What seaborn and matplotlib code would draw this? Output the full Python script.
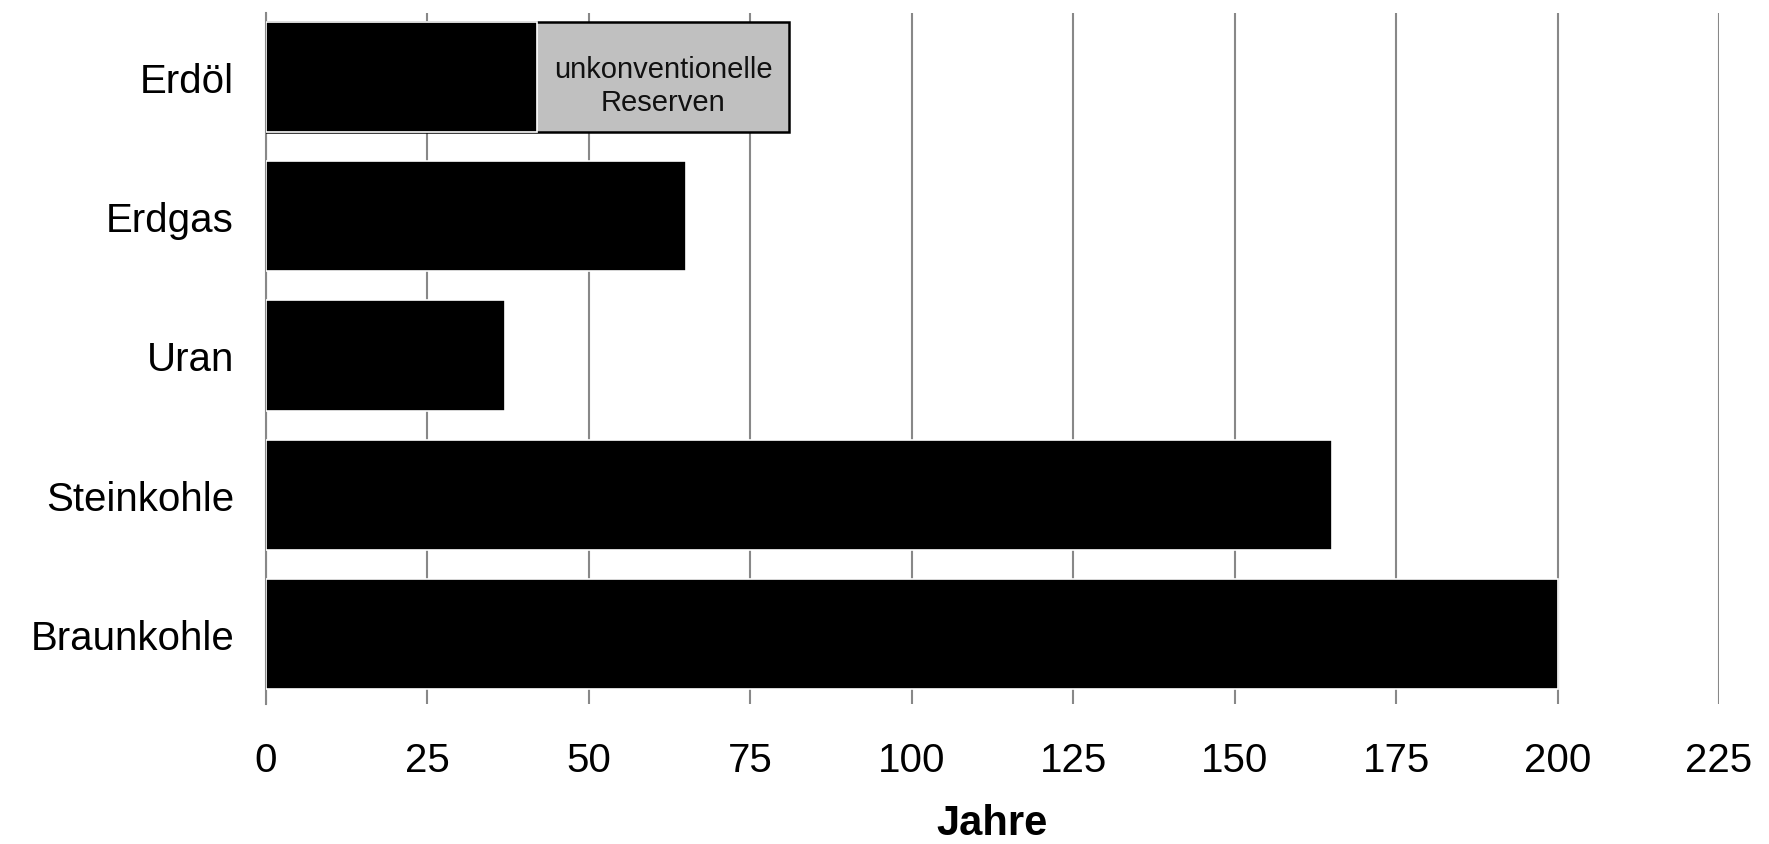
import matplotlib
matplotlib.use("Agg")
import matplotlib.pyplot as plt
import seaborn as sns
import pandas as pd

# Statische Reichweite der Energierohstoffe in Jahren
kategorien = ["Erdöl", "Erdgas", "Uran", "Steinkohle", "Braunkohle"]
reserven_jahre = [42, 65, 37, 165, 200]
# Erdöl inklusive unkonventioneller Reserven
gesamt_kategorie = ["Erdöl"]
gesamt_jahre = [81]
x_ticks = [0, 25, 50, 75, 100, 125, 150, 175, 200, 225]
x_titel = "Jahre"
hinweis = "unkonventionelle\nReserven"

sns.set_style("white")
plt.rcParams["font.family"] = ["Liberation Sans", "DejaVu Sans"]
plt.rcParams["text.color"] = "black"
plt.rcParams["axes.labelcolor"] = "black"
plt.rcParams["xtick.color"] = "black"
plt.rcParams["ytick.color"] = "black"

df = pd.DataFrame({"Energietraeger": kategorien, "Jahre": reserven_jahre})
df_gesamt = pd.DataFrame({"Energietraeger": gesamt_kategorie, "Jahre": gesamt_jahre})

fig = plt.figure(figsize=(17.69, 8.45), dpi=100)
ax = fig.add_axes([266 / 1769, 1 - 705 / 845, (1719 - 266) / 1769, (705 - 13.5) / 845])

# Gesamtbalken (grau) zuerst, darüber die konventionellen Reserven (schwarz)
sns.barplot(data=df_gesamt, x="Jahre", y="Energietraeger", order=kategorien,
            orient="h", color="#c0c0c0", edgecolor="black", linewidth=1.8,
            width=0.79, saturation=1, ax=ax, zorder=3)
sns.barplot(data=df, x="Jahre", y="Energietraeger", order=kategorien,
            orient="h", color="black", edgecolor="white", linewidth=1.2,
            width=0.79, saturation=1, ax=ax, zorder=4)

ax.text((reserven_jahre[0] + gesamt_jahre[0]) / 2, 0.065, hinweis,
        ha="center", va="center", fontsize=21, color="#111111",
        linespacing=1.25, zorder=5)

ax.set_xlim(0, 225)
ax.set_ylim(4.5, -0.46)
ax.set_xticks(x_ticks)
ax.set_xticklabels([str(t) for t in x_ticks], fontsize=29)
ax.tick_params(axis="x", length=4, width=1, color="#888888", labelcolor="black", pad=23)
ax.tick_params(axis="y", length=0, pad=23, labelsize=29, labelcolor="black")
ax.set_ylabel("")
ax.set_xlabel(x_titel, fontsize=30, fontweight="bold", labelpad=17, color="black")

ax.grid(axis="x", color="#888888", linewidth=1.5, zorder=0)
ax.grid(axis="y", visible=False)
ax.set_axisbelow(True)
for side in ["top", "right", "bottom"]:
    ax.spines[side].set_visible(False)
ax.spines["left"].set_color("#888888")
ax.spines["left"].set_linewidth(1.5)

fig.savefig("out.png", dpi=100, facecolor="white")
